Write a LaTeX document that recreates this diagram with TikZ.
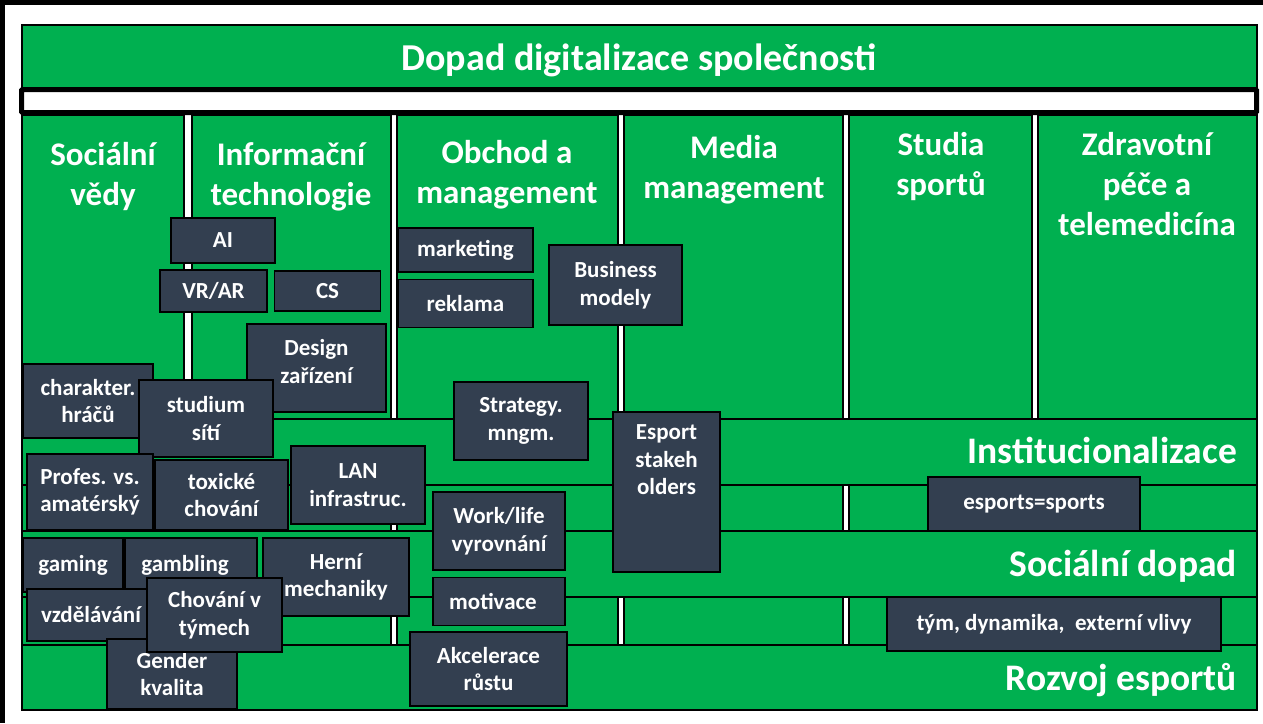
\documentclass[tikz,border=0pt]{standalone}
\usepackage{fontspec}
\setmainfont{Carlito}
\usetikzlibrary{positioning}
\definecolor{officegreen}{HTML}{00B050}
\definecolor{slatebox}{HTML}{333F50}

\begin{document}
\begin{tikzpicture}[
        x=1pt, y=-1pt,
        topic/.style={rectangle, draw, line width=1.6pt, fill=slatebox, text=white, font=\bfseries\fontsize{23}{27.5}\selectfont, align=center, inner sep=0pt},
        column/.style={draw, line width=1.6pt, fill=officegreen},
        header/.style={text=white, font=\bfseries\fontsize{33}{40}\selectfont, align=center, inner sep=0pt, anchor=north},
        node distance=6pt
    ]

    \tikzstyle{bandlabel} = [text=white, font=\bfseries\fontsize{37.5}{42}\selectfont, inner sep=0pt, anchor=base east]
    \useasboundingbox (0,0) rectangle (1263,723);
    \fill[white] (0,0) rectangle (1263,723);
    \fill[black] (0,0) rectangle (1263,5);
    \fill[black] (0,0) rectangle (5,723);

    % title and columns
    \draw[column] (22,25) rectangle (1257,88);
    \node[text=white, font=\bfseries\fontsize{38}{42}\selectfont, anchor=base] (title) at (639,70) {Dopad digitalizace společnosti};
    \draw[column] (22,115) rectangle (184,710);
    \draw[column] (192,115) rectangle (391,710);
    \draw[column] (397,115) rectangle (618,710);
    \draw[column] (624,115) rectangle (843,710);
    \draw[column] (849,115) rectangle (1032,710);
    \draw[column] (1038,115) rectangle (1257,710);
    \draw[line width=5pt, fill=white, rounded corners=1pt] (21.5,89.5) rectangle (1256.5,112.5);

    \node[header] (socialni) at (103,142) {Sociální\\vědy};
    \node[header] (informacni) at (291,142) {Informační\\technologie};
    \node[header] (obchod) at (507,140) {Obchod a\\management};
    \node[header] (media) at (734,135) {Media\\management};
    \node[header] (sporty) at (941,132) {Studia\\sportů};
    \node[header] (zdravi) at (1147,132) {Zdravotní\\péče a\\telemedicína};

    % horizontal bands
    \draw[column] (22,419) rectangle (1257,485);
    \draw[column] (22,531) rectangle (1257,597);
    \draw[column] (22,645) rectangle (1257,710);
    \node[bandlabel] (instituce) at (1237,463) {Institucionalizace};
    \node[bandlabel] (dopad) at (1237,576) {Sociální dopad};
    \node[bandlabel] (rozvoj) at (1237,690) {Rozvoj esportů};

    % topics
    \node[topic, minimum width=104pt, minimum height=45pt] (ai) at (223,240.5) {AI};
    \node[topic, minimum width=107pt, minimum height=42pt] (vrar) at (213.5,291) {VR/AR};
    \node[topic, minimum width=106pt, minimum height=40pt, right=of vrar] (cs) {CS};
    \node[topic, minimum width=139pt, minimum height=88pt] (design) at (316.5,368) {Design\\zařízení\\[-14pt]};
    \node[topic, minimum width=130pt, minimum height=74pt] (charakter) at (88,401) {charakter.\\hráčů};
    \node[topic, minimum width=134pt, minimum height=77pt] (studium) at (206,418.5) {studium\\sítí};
    \node[topic, minimum width=126pt, minimum height=76pt] (profes) at (90,492) {Profes. vs.\\amatérský};
    \node[topic, minimum width=133pt, minimum height=70pt] (toxicke) at (221.5,495) {toxické\\chování};
    \node[topic, minimum width=134pt, minimum height=78pt] (lan) at (358,485) {LAN\\infrastruc.};
    \node[topic, minimum width=100pt, minimum height=54pt] (gaming) at (73,565) {gaming};
    \node[topic, minimum width=132pt, minimum height=54pt] (gambling) at (191,565) {gambling\hspace*{12pt}};
    \node[topic, minimum width=122pt, minimum height=52pt] (vzdelavani) at (88,615) {\hspace*{6pt}vzdělávání};
    \node[topic, minimum width=130pt, minimum height=70pt] (gender) at (172,674) {Gender\\kvalita};
    \node[topic, minimum width=146pt, minimum height=78pt] (herni) at (336,577) {Herní\\mechaniky};
    \node[topic, minimum width=135pt, minimum height=74pt] (tymy) at (214.5,615) {Chování v\\týmech};

    \node[topic, minimum width=135pt, minimum height=44pt] (marketing) at (465.5,250) {marketing};
    \node[topic, minimum width=135pt, minimum height=48pt, below=of marketing] (reklama) {reklama};
    \node[topic, minimum width=133pt, minimum height=80pt] (business) at (615.5,285) {Business\\modely};
    \node[topic, minimum width=134pt, minimum height=78pt] (strategie) at (521,421) {Strategy.\\mngm.};
    \node[topic, minimum width=107pt, minimum height=160pt] (stakeholders) at (666.5,492) {\parbox[c][160pt][t]{100pt}{\vspace*{13pt}\centering Esport\\stakeh\\olders}};
    \node[topic, minimum width=132pt, minimum height=78pt] (worklife) at (499,531) {Work/life\\vyrovnání};
    \node[topic, minimum width=132pt, minimum height=48pt, below=of worklife] (motivace) {motivace\hspace*{12pt}};
    \node[topic, minimum width=157pt, minimum height=74pt] (akcelerace) at (488.5,669) {Akcelerace\\růstu};
    \node[topic, minimum width=212pt, minimum height=54pt] (esports) at (1034,504) {esports=sports};
    \node[topic, minimum width=334pt, minimum height=54pt] (tym) at (1054,624) {tým, dynamika, \ externí vlivy};

\end{tikzpicture}
\end{document}
